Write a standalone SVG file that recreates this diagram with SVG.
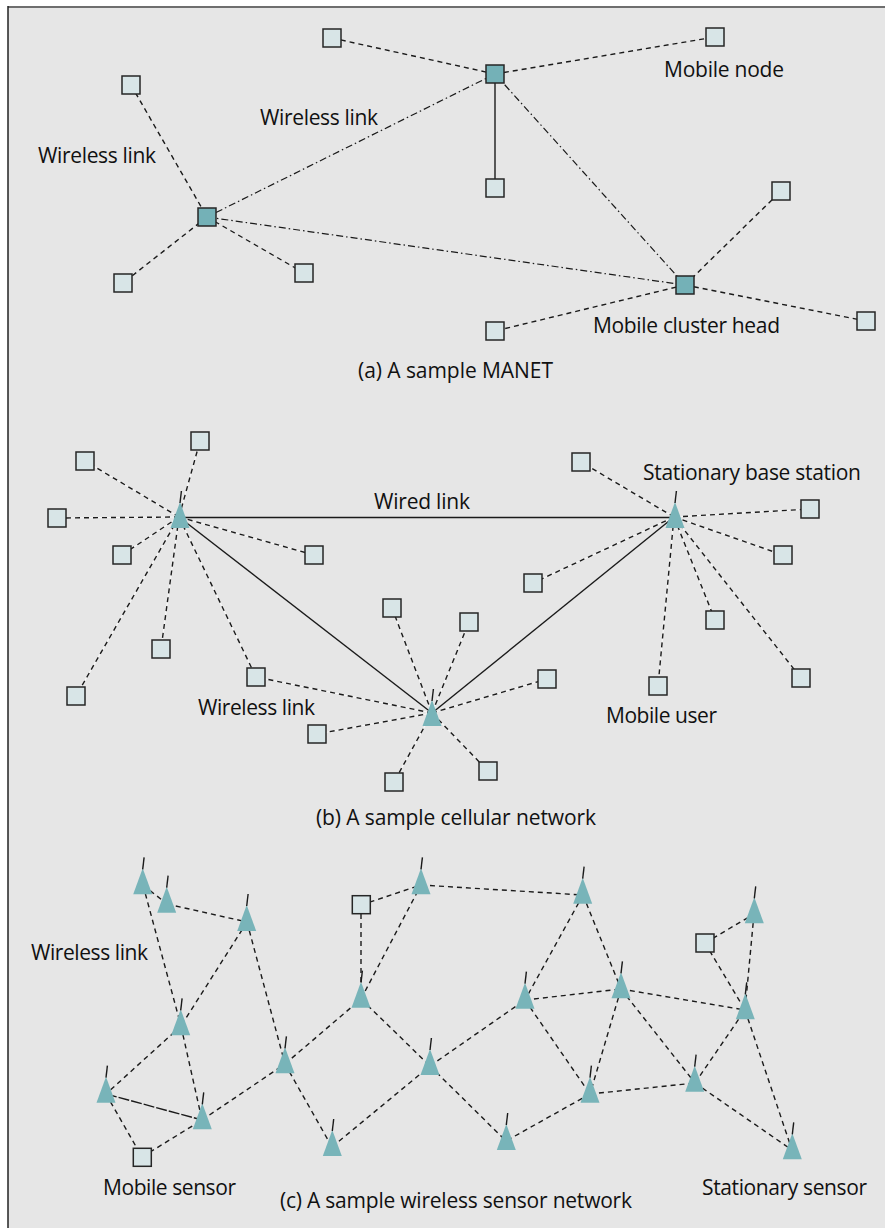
<svg xmlns="http://www.w3.org/2000/svg" xmlns:xlink="http://www.w3.org/1999/xlink" width="885" height="1228" viewBox="0 0 885 1228">
<style>
.t{font-family:"Open Sans","Liberation Sans",sans-serif;font-size:21px;fill:#111111}
.sq{fill:#d8e5e7;stroke:#262626;stroke-width:1.5}
.hd{fill:#74b1b7;stroke:#262626;stroke-width:1.5}
.tri{fill:#78b4b9}
.ant{stroke:#1a1a1a;stroke-width:1.4;fill:none}
.d{stroke:#1a1a1a;stroke-width:1.4;stroke-dasharray:5 4;fill:none}
.dd{stroke:#1a1a1a;stroke-width:1.2;stroke-dasharray:7 3 1.5 3;fill:none}
.s{stroke:#1a1a1a;stroke-width:1.4;fill:none}
.w{stroke:#ffffff;stroke-width:1.2;stroke-opacity:0.7;fill:none}
.ld{stroke:#1a1a1a;stroke-width:1.4;stroke-dasharray:11 2;fill:none}
</style>
<defs>
<g id="tri"><path class="tri" d="M0,0 L-9.5,26 L9.5,26 Z"/><path class="ant" d="M0,1 L1.4,-11"/></g>
</defs>
<rect x="8" y="7" width="877" height="1221" fill="#e6e6e6"/>
<line x1="8" y1="7" x2="885" y2="7" stroke="#6e6e6e" stroke-width="2"/>
<line x1="8" y1="6" x2="8" y2="1228" stroke="#222" stroke-width="1.5"/>

<g id="connectors">
<!-- (a) -->
<line class="d" x1="332" y1="38" x2="495" y2="74"/>
<line class="d" x1="495" y1="74" x2="715" y2="37"/>
<line class="s" x1="495" y1="74" x2="495" y2="188"/>
<line class="dd" x1="495" y1="74" x2="207" y2="217"/>
<line class="dd" x1="495" y1="74" x2="685" y2="285"/>
<line class="dd" x1="207" y1="217" x2="685" y2="285"/>
<line class="d" x1="131" y1="85" x2="207" y2="217"/>
<line class="d" x1="207" y1="217" x2="123" y2="283"/>
<line class="d" x1="207" y1="217" x2="304" y2="273"/>
<line class="d" x1="685" y1="285" x2="781" y2="191"/>
<line class="d" x1="685" y1="285" x2="495" y2="331"/>
<line class="d" x1="685" y1="285" x2="866" y2="321"/>
<!-- (b) white underlays -->
<g class="w">
<line x1="179" y1="517" x2="200" y2="441"/><line x1="179" y1="517" x2="85" y2="461"/><line x1="179" y1="517" x2="57" y2="518"/><line x1="179" y1="517" x2="122" y2="555"/><line x1="179" y1="517" x2="314" y2="555"/><line x1="179" y1="517" x2="161" y2="649"/><line x1="179" y1="517" x2="76" y2="696"/><line x1="179" y1="517" x2="256" y2="677"/>
<line x1="674" y1="517" x2="581" y2="462"/><line x1="674" y1="517" x2="810" y2="509"/><line x1="674" y1="517" x2="783" y2="555"/><line x1="674" y1="517" x2="715" y2="620"/><line x1="674" y1="517" x2="801" y2="678"/><line x1="674" y1="517" x2="658" y2="686"/><line x1="674" y1="517" x2="533" y2="583"/>
<line x1="432" y1="713" x2="392" y2="608"/><line x1="432" y1="713" x2="469" y2="622"/><line x1="432" y1="713" x2="547" y2="679"/><line x1="432" y1="713" x2="488" y2="771"/><line x1="432" y1="713" x2="394" y2="782"/><line x1="432" y1="713" x2="317" y2="734"/><line x1="432" y1="713" x2="256" y2="677"/>
</g>
<!-- (b) dashed -->
<g class="d">
<line x1="179" y1="517" x2="200" y2="441"/><line x1="179" y1="517" x2="85" y2="461"/><line x1="179" y1="517" x2="57" y2="518"/><line x1="179" y1="517" x2="122" y2="555"/><line x1="179" y1="517" x2="314" y2="555"/><line x1="179" y1="517" x2="161" y2="649"/><line x1="179" y1="517" x2="76" y2="696"/><line x1="179" y1="517" x2="256" y2="677"/>
<line x1="674" y1="517" x2="581" y2="462"/><line x1="674" y1="517" x2="810" y2="509"/><line x1="674" y1="517" x2="783" y2="555"/><line x1="674" y1="517" x2="715" y2="620"/><line x1="674" y1="517" x2="801" y2="678"/><line x1="674" y1="517" x2="658" y2="686"/><line x1="674" y1="517" x2="533" y2="583"/>
<line x1="432" y1="713" x2="392" y2="608"/><line x1="432" y1="713" x2="469" y2="622"/><line x1="432" y1="713" x2="547" y2="679"/><line x1="432" y1="713" x2="488" y2="771"/><line x1="432" y1="713" x2="394" y2="782"/><line x1="432" y1="713" x2="317" y2="734"/><line x1="432" y1="713" x2="256" y2="677"/>
</g>
<!-- (b) wired -->
<line class="s" x1="179" y1="517.5" x2="674" y2="517.5" stroke-width="1.6"/>
<line class="s" x1="179" y1="517" x2="432" y2="713"/>
<line class="s" x1="674" y1="517" x2="432" y2="713"/>
<!-- (c) -->
<g class="d">
<line x1="143" y1="885" x2="167" y2="904"/>
<line x1="167" y1="904" x2="247" y2="922"/>
<line x1="143" y1="885" x2="181" y2="1026"/>
<line x1="247" y1="922" x2="181" y2="1026"/>
<line x1="247" y1="922" x2="285" y2="1064"/>
<line x1="181" y1="1026" x2="106" y2="1094"/>
<line x1="181" y1="1026" x2="202" y2="1120"/>
<line x1="106" y1="1094" x2="142" y2="1157"/>
<line x1="142" y1="1157" x2="202" y2="1120"/>
<line x1="202" y1="1120" x2="285" y2="1064"/>
<line x1="285" y1="1064" x2="361" y2="999"/>
<line x1="285" y1="1064" x2="332" y2="1147"/>
<line x1="361" y1="905" x2="421" y2="885"/>
<line x1="361" y1="905" x2="361" y2="999"/>
<line x1="361" y1="999" x2="421" y2="885"/>
<line x1="361" y1="999" x2="430" y2="1066"/>
<line x1="332" y1="1147" x2="430" y2="1066"/>
<line x1="430" y1="1066" x2="525" y2="1000"/>
<line x1="430" y1="1066" x2="506" y2="1141"/>
<line x1="421" y1="885" x2="583" y2="895"/>
<line x1="583" y1="895" x2="525" y2="1000"/>
<line x1="583" y1="895" x2="621" y2="989"/>
<line x1="525" y1="1000" x2="621" y2="989"/>
<line x1="525" y1="1000" x2="590" y2="1094"/>
<line x1="621" y1="989" x2="590" y2="1094"/>
<line x1="621" y1="989" x2="695" y2="1083"/>
<line x1="621" y1="989" x2="745" y2="1010"/>
<line x1="590" y1="1094" x2="506" y2="1141"/>
<line x1="590" y1="1094" x2="695" y2="1083"/>
<line x1="695" y1="1083" x2="745" y2="1010"/>
<line x1="695" y1="1083" x2="792" y2="1150"/>
<line x1="745" y1="1010" x2="792" y2="1150"/>
<line x1="705" y1="943" x2="754" y2="914"/>
<line x1="705" y1="943" x2="745" y2="1010"/>
<line x1="754" y1="914" x2="745" y2="1010"/>
</g>
<line class="ld" x1="106" y1="1094" x2="202" y2="1120"/>
</g>

<!-- (a) nodes -->
<g id="a-n1"><rect class="sq" x="323" y="29" width="18" height="18"/></g>
<g id="a-n2"><rect class="sq" x="122" y="76" width="18" height="18"/></g>
<g id="a-h1"><rect class="hd" x="198" y="208" width="18" height="18"/></g>
<g id="a-n3"><rect class="sq" x="114" y="274" width="18" height="18"/></g>
<g id="a-n4"><rect class="sq" x="295" y="264" width="18" height="18"/></g>
<g id="a-h2"><rect class="hd" x="486" y="65" width="18" height="18"/></g>
<g id="a-n5"><rect class="sq" x="706" y="28" width="18" height="18"/></g>
<g id="a-n6"><rect class="sq" x="486" y="179" width="18" height="18"/></g>
<g id="a-n7"><rect class="sq" x="772" y="182" width="18" height="18"/></g>
<g id="a-h3"><rect class="hd" x="676" y="276" width="18" height="18"/></g>
<g id="a-n8"><rect class="sq" x="486" y="322" width="18" height="18"/></g>
<g id="a-n9"><rect class="sq" x="857" y="312" width="18" height="18"/></g>

<!-- (b) nodes -->
<g id="b-bs1"><use xlink:href="#tri" x="180" y="502"/></g>
<g id="b-bs2"><use xlink:href="#tri" x="675" y="502"/></g>
<g id="b-bs3"><use xlink:href="#tri" x="432" y="700"/></g>
<g id="b-u1"><rect class="sq" x="191" y="432" width="18" height="18"/></g>
<g id="b-u2"><rect class="sq" x="76" y="452" width="18" height="18"/></g>
<g id="b-u3"><rect class="sq" x="48" y="509" width="18" height="18"/></g>
<g id="b-u4"><rect class="sq" x="113" y="546" width="18" height="18"/></g>
<g id="b-u5"><rect class="sq" x="305" y="546" width="18" height="18"/></g>
<g id="b-u6"><rect class="sq" x="152" y="640" width="18" height="18"/></g>
<g id="b-u7"><rect class="sq" x="67" y="687" width="18" height="18"/></g>
<g id="b-u8"><rect class="sq" x="247" y="668" width="18" height="18"/></g>
<g id="b-u9"><rect class="sq" x="383" y="599" width="18" height="18"/></g>
<g id="b-u10"><rect class="sq" x="460" y="613" width="18" height="18"/></g>
<g id="b-u11"><rect class="sq" x="538" y="670" width="18" height="18"/></g>
<g id="b-u12"><rect class="sq" x="479" y="762" width="18" height="18"/></g>
<g id="b-u13"><rect class="sq" x="385" y="773" width="18" height="18"/></g>
<g id="b-u14"><rect class="sq" x="308" y="725" width="18" height="18"/></g>
<g id="b-u15"><rect class="sq" x="572" y="453" width="18" height="18"/></g>
<g id="b-u16"><rect class="sq" x="801" y="500" width="18" height="18"/></g>
<g id="b-u17"><rect class="sq" x="774" y="546" width="18" height="18"/></g>
<g id="b-u18"><rect class="sq" x="706" y="611" width="18" height="18"/></g>
<g id="b-u19"><rect class="sq" x="792" y="669" width="18" height="18"/></g>
<g id="b-u20"><rect class="sq" x="649" y="677" width="18" height="18"/></g>
<g id="b-u21"><rect class="sq" x="524" y="574" width="18" height="18"/></g>

<!-- (c) nodes -->
<g id="c-t1"><use xlink:href="#tri" x="142.7" y="868.3"/></g>
<g id="c-t2"><use xlink:href="#tri" x="166.7" y="886.7"/></g>
<g id="c-t3"><use xlink:href="#tri" x="246.7" y="905"/></g>
<g id="c-t4"><use xlink:href="#tri" x="180.7" y="1009.3"/></g>
<g id="c-t5"><use xlink:href="#tri" x="106" y="1076.7"/></g>
<g id="c-t6"><use xlink:href="#tri" x="202.3" y="1103.3"/></g>
<g id="c-t7"><use xlink:href="#tri" x="285" y="1047.3"/></g>
<g id="c-t8"><use xlink:href="#tri" x="361" y="981.7"/></g>
<g id="c-t9"><use xlink:href="#tri" x="332.3" y="1130"/></g>
<g id="c-t10"><use xlink:href="#tri" x="421" y="868.3"/></g>
<g id="c-t11"><use xlink:href="#tri" x="430" y="1049"/></g>
<g id="c-t12"><use xlink:href="#tri" x="582.7" y="877.7"/></g>
<g id="c-t13"><use xlink:href="#tri" x="754.3" y="897.3"/></g>
<g id="c-t14"><use xlink:href="#tri" x="525" y="982.7"/></g>
<g id="c-t15"><use xlink:href="#tri" x="621" y="972.3"/></g>
<g id="c-t16"><use xlink:href="#tri" x="745.3" y="993.3"/></g>
<g id="c-t17"><use xlink:href="#tri" x="590" y="1076.7"/></g>
<g id="c-t18"><use xlink:href="#tri" x="694.7" y="1065.7"/></g>
<g id="c-t19"><use xlink:href="#tri" x="506.3" y="1124"/></g>
<g id="c-t20"><use xlink:href="#tri" x="792.3" y="1133.3"/></g>
<g id="c-s1"><rect class="sq" x="352.3" y="895.7" width="18" height="18"/></g>
<g id="c-s2"><rect class="sq" x="133.3" y="1148.3" width="18" height="18"/></g>
<g id="c-s3"><rect class="sq" x="696" y="934" width="18" height="18"/></g>

<!-- labels -->
<g id="labels">
<text class="t" x="38" y="163" textLength="118">Wireless link</text>
<text class="t" x="260" y="125" textLength="118">Wireless link</text>
<text class="t" x="664" y="77" textLength="120">Mobile node</text>
<text class="t" x="593" y="333" textLength="187">Mobile cluster head</text>
<text class="t" x="358" y="378" textLength="195">(a) A sample MANET</text>
<text class="t" x="374" y="509" textLength="96">Wired link</text>
<text class="t" x="643" y="480" textLength="218">Stationary base station</text>
<text class="t" x="198" y="715" textLength="117">Wireless link</text>
<text class="t" x="606" y="723" textLength="111">Mobile user</text>
<text class="t" x="316" y="825" textLength="280">(b) A sample cellular network</text>
<text class="t" x="31" y="960" textLength="117">Wireless link</text>
<text class="t" x="103" y="1195" textLength="133">Mobile sensor</text>
<text class="t" x="280" y="1208" textLength="352">(c) A sample wireless sensor network</text>
<text class="t" x="702" y="1195" textLength="165">Stationary sensor</text>
</g>
</svg>
